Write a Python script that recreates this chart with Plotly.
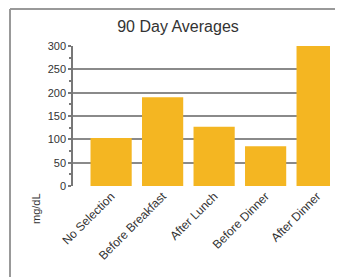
import plotly.graph_objects as go

categories = ["No Selection", "Before Breakfast", "After Lunch", "Before Dinner", "After Dinner"]
values = [103, 190, 127, 85, 305]
y_ticks = [0, 50, 100, 150, 200, 250, 300]

OFF = 8  # page body margin
W, H = 343 - OFF, 277 - OFF
ml, mr, mt, mb = 73 - OFF, 13, 46 - OFF, 91


def px_x(x):
    return (x - OFF - ml) / (W - ml - mr)


def px_y(y):
    return (H - mb - (y - OFF)) / (H - mt - mb)


fig = go.Figure(go.Bar(x=list(range(len(categories))), y=values,
                       marker=dict(color="#F4B622", line=dict(width=0)), width=0.8))

fig.update_layout(
    width=W, height=H,
    margin=dict(l=ml, r=mr, t=mt, b=mb, pad=0),
    paper_bgcolor="white", plot_bgcolor="white",
    showlegend=False,
    font=dict(family="Liberation Sans, Arial, sans-serif", color="#333"),
    title=dict(text="90 Day Averages", x=(178 - OFF) / W, xref="container", xanchor="center",
               y=1 - (26 - OFF) / H, yref="container", yanchor="middle",
               font=dict(size=16, color="#333")),
    xaxis=dict(range=[-0.74, 4.25], tickmode="array", tickvals=list(range(len(categories))),
               ticktext=categories, tickangle=-45, showgrid=False, zeroline=False,
               showline=False, ticks="", automargin=False,
               tickfont=dict(size=12, color="#333")),
    yaxis=dict(range=[0, 300], tickvals=y_ticks, showgrid=True, gridcolor="#8a8a8a",
               gridwidth=1.5, zeroline=False, showline=True, linecolor="#777", linewidth=1.5,
               ticks="outside", ticklen=3, tickcolor="#777", tickwidth=1.5, automargin=False,
               minor=dict(dtick=25, ticks="outside", ticklen=2, tickcolor="#777", showgrid=False),
               tickfont=dict(size=11, color="#333")),
    annotations=[dict(text="mg/dL", xref="paper", yref="paper",
                      x=px_x(36), y=px_y(209),
                      showarrow=False, textangle=-90, font=dict(size=11, color="#333"),
                      xanchor="center", yanchor="middle")],
    shapes=[
        dict(type="line", xref="paper", yref="paper",
             x0=px_x(10), x1=px_x(350), y0=px_y(9), y1=px_y(9),
             line=dict(color="#999", width=2)),
        dict(type="line", xref="paper", yref="paper",
             x0=px_x(10), x1=px_x(10), y0=px_y(9), y1=px_y(285),
             line=dict(color="#999", width=2)),
    ],
)
fig.write_html("out.html")
